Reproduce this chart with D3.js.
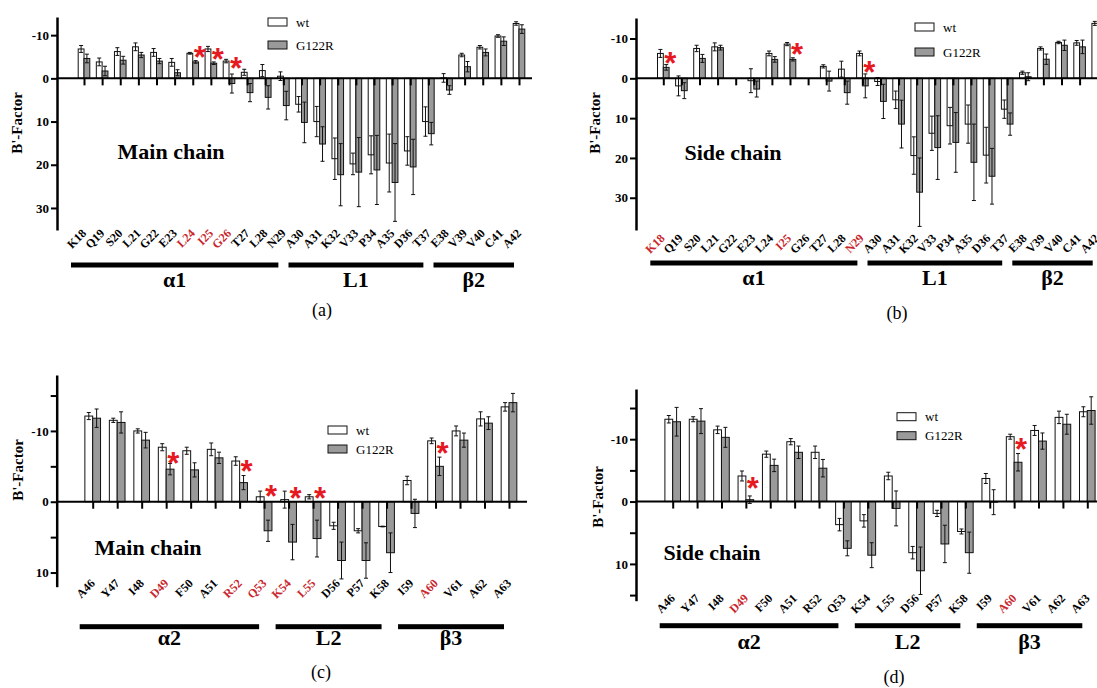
<!DOCTYPE html>
<html lang="en">
<head>
<meta charset="UTF-8">
<title>B'-Factor wt vs G122R</title>
<script src="https://d3js.org/d3.v7.min.js"></script>
<style>
  body { margin: 0; background: #fff; }
  svg { display: block; }
</style>
</head>
<body>
<script>
// ---------- data (negative = drawn upward) ----------
var catsA = ['K18','Q19','S20','L21','G22','E23','L24','I25','G26','T27','L28','N29',
             'A30','A31','K32','V33','P34','A35','D36','T37','E38','V39','V40','C41','A42'];
var catsC = ['A46','Y47','I48','D49','F50','A51','R52','Q53','K54','L55','D56','P57','K58',
             'I59','A60','V61','A62','A63'];

// (a) main chain, residues 18-42
var mainWtA     = [-6.8,-3.8,-6.2,-7.3,-6.0,-3.7,-5.8,-6.8,-4.0,-1.4,-1.8,-0.5,6.0,10.0,18.6,19.8,17.7,19.6,16.8,10.0,-0.1,-5.4,-7.2,-9.8,-12.7];
var mainWtErrA  = [0.8,0.9,0.9,0.9,0.9,0.9,0.2,0.6,0.4,0.7,1.4,1.0,1.8,3.5,4.8,2.5,4.4,6.7,3.3,3.4,1.0,0.4,0.4,0.3,0.4];
var mainMutA    = [-4.6,-1.7,-4.2,-5.4,-4.0,-1.3,-3.8,-3.5,1.2,3.3,4.4,6.3,10.2,15.2,22.3,21.7,21.2,24.1,20.5,12.8,2.7,-2.7,-6.0,-8.6,-11.4];
var mainMutErrA = [1.0,1.1,0.9,0.6,0.6,0.7,0.3,0.3,2.2,2.1,2.7,3.3,4.7,4.0,7.2,8.0,8.0,9.0,6.4,2.6,1.0,1.2,0.8,1.0,1.0];

// (b) side chain, residues 18-42
var sideWtB     = [-6.25,1.9,-7.5,-7.9,0,0.6,-6.25,-8.6,0,-3.0,-2.3,-6.25,0.8,5.4,19.4,13.8,11.9,11.5,19.3,7.75,-1.4,-7.5,-9.0,-8.9,-13.8];
var sideWtErrB  = [1.0,2.5,0.8,1.0,0,3.0,0.6,0.4,0,0.4,2.0,0.6,1.0,2.2,4.7,4.3,4.6,4.8,7.0,2.3,0.4,0.4,0.3,0.6,0.5];
var sideMutB    = [-2.75,3.1,-5.0,-7.7,0,2.7,-4.75,-4.75,0,0.7,3.6,1.9,5.8,11.5,28.6,17.4,16.1,21.1,24.6,11.5,-0.4,-4.8,-8.3,-7.9,-12.5];
var sideMutErrB = [0.7,2.0,1.0,0.6,0,2.0,0.7,0.4,0,2.5,2.9,3.0,4.3,6.0,8.6,8.0,7.5,9.6,7.0,2.8,1.0,1.3,1.3,1.7,1.0];

// (c) main chain, residues 46-63
var mainWtC     = [-12.1,-11.5,-10.0,-7.7,-7.2,-7.4,-5.75,-0.7,-0.3,-0.7,3.4,4.1,3.5,-3.0,-8.6,-10.0,-11.7,-13.4];
var mainWtErrC  = [0.5,0.3,0.3,0.5,0.5,0.9,0.6,0.8,1.2,0.3,0.5,0.3,0.05,0.6,0.4,0.7,1.0,0.6];
var mainMutC    = [-11.8,-11.2,-8.7,-4.6,-4.5,-6.2,-2.7,4.1,5.7,5.2,8.3,8.3,7.2,1.65,-5.0,-8.7,-11.1,-14.0];
var mainMutErrC = [1.3,1.5,1.1,0.8,1.0,0.8,1.0,1.5,2.5,2.6,2.6,2.5,2.8,2.0,1.3,1.0,0.9,1.3];

// (d) side chain, residues 46-63
var sideWtD     = [-13.2,-13.2,-11.5,-4.1,-7.6,-9.6,-7.9,3.7,3.1,-4.1,8.2,1.9,4.8,-3.7,-10.4,-11.4,-13.5,-14.4];
var sideWtErrD  = [0.6,0.4,0.6,0.8,0.5,0.5,1.0,1.0,1.0,0.6,1.0,0.5,0.4,0.8,0.4,0.8,1.0,0.8];
var sideMutD    = [-12.8,-12.9,-10.3,-0.3,-5.8,-7.9,-5.35,7.5,8.6,1.1,11.1,6.8,8.2,0.1,-6.3,-9.7,-12.4,-14.6];
var sideMutErrD = [2.3,2.0,1.6,0.6,1.0,1.0,1.4,1.2,2.0,2.8,3.8,3.0,3.3,2.0,1.4,1.3,1.6,2.2];

// highlighted residues and significance marks [residue, level]
var redA = ['L24','I25','G26'];
var redB = ['K18','I25','N29'];
var redC = ['D49','R52','Q53','K54','L55','A60'];
var redD = ['D49','A60'];
var starsA = [['L24',-6.4],['I25',-5.9],['G26',-3.7]];
var starsB = [['K18',-5.4],['I25',-7.7],['N29',-3.2]];
var starsC = [['D49',-6.3],['R52',-5.2],['Q53',-1.65],['K54',-1.4],['L55',-1.4],['A60',-7.7]];
var starsD = [['D49',-3.2],['A60',-9.4]];

// secondary structure segments [name, first, last]
var segsA = [['\u03b11','K18','N29'],['L1','A30','T37'],['\u03b22','E38','A42']];
var segsC = [['\u03b12','A46','Q53'],['L2','K54','K58'],['\u03b23','I59','A63']];

var seriesNames = ['wt','G122R'];
var fills = {wt: '#ffffff', G122R: '#9a9a9a'};

var SERIF = "'Liberation Serif','Times New Roman',serif";
var RED = '#c8262c';

var svg = d3.select('body').append('svg')
    .attr('width', 1097)
    .attr('height', 688)
    .style('background', '#fff');

function drawPanel(p) {
    var g = svg.append('g');

    var y = d3.scaleLinear().domain(p.yDom).range([p.top, p.bottom]);
    var x = d3.scalePoint().domain(p.cats).range([p.xFirst, p.xLast]);
    var bw = x.step() * 0.32;
    var sub = d3.scaleBand().domain(seriesNames).range([-bw, bw]);

    var rows = p.cats.map(function(c, i) {
        return {cat: c, vals: [
            {k: 'wt', v: p.wt[i], e: p.wtErr[i]},
            {k: 'G122R', v: p.mut[i], e: p.mutErr[i]}
        ]};
    });

    // bars
    var grp = g.selectAll('g.grp').data(rows).enter().append('g')
        .attr('class', 'grp')
        .attr('transform', function(d){ return 'translate(' + x(d.cat) + ',0)'; });

    grp.selectAll('rect')
        .data(function(d){ return d.vals.filter(function(v){ return v.v !== 0; }); })
        .enter().append('rect')
        .attr('x', function(d){ return sub(d.k); })
        .attr('width', sub.bandwidth())
        .attr('y', function(d){ return Math.min(y(0), y(d.v)); })
        .attr('height', function(d){ return Math.abs(y(d.v) - y(0)); })
        .attr('fill', function(d){ return fills[d.k]; })
        .attr('stroke', '#111')
        .attr('stroke-width', 1);

    // error bars
    var eb = grp.selectAll('g.err')
        .data(function(d){ return d.vals.filter(function(v){ return v.e > 0; }); })
        .enter().append('g').attr('class', 'err')
        .attr('stroke', '#111').attr('stroke-width', 1);
    eb.append('line')
        .attr('x1', function(d){ return sub(d.k) + sub.bandwidth()/2; })
        .attr('x2', function(d){ return sub(d.k) + sub.bandwidth()/2; })
        .attr('y1', function(d){ return y(d.v - d.e); })
        .attr('y2', function(d){ return y(d.v + d.e); });
    [-1, 1].forEach(function(s) {
        eb.append('line')
            .attr('x1', function(d){ return sub(d.k) + sub.bandwidth()/2 - 2; })
            .attr('x2', function(d){ return sub(d.k) + sub.bandwidth()/2 + 2; })
            .attr('y1', function(d){ return y(d.v + s*d.e); })
            .attr('y2', function(d){ return y(d.v + s*d.e); });
    });

    // zero line + category ticks
    g.append('line')
        .attr('x1', p.axisX).attr('x2', p.lineEnd)
        .attr('y1', y(0)).attr('y2', y(0))
        .attr('stroke', '#000').attr('stroke-width', 2);
    g.append('g')
        .attr('transform', 'translate(0,' + y(0) + ')')
        .call(d3.axisBottom(x).tickSize(7).tickFormat(''))
        .call(function(a){ a.select('.domain').remove(); })
        .selectAll('line').attr('stroke', '#000').attr('stroke-width', 2);

    // y axis
    var ya = g.append('g')
        .attr('transform', 'translate(' + p.axisX + ',0)')
        .call(d3.axisLeft(y).tickValues(p.ticks).tickSize(6).tickSizeOuter(0).tickPadding(2)
            .tickFormat(function(d){ return p.labelled.indexOf(d) >= 0 ? String(d) : ''; }));
    ya.select('.domain').attr('stroke', '#000').attr('stroke-width', 2.5);
    ya.selectAll('line').attr('stroke', '#000').attr('stroke-width', 2);
    ya.selectAll('text')
        .attr('fill', '#000')
        .style('font-family', SERIF).style('font-weight', 'bold').style('font-size', '13px');

    g.append('text')
        .attr('transform', 'translate(' + p.ylabX + ',' + p.ylabY + ') rotate(-90)')
        .attr('text-anchor', 'middle')
        .style('font-family', SERIF).style('font-weight', 'bold').style('font-size', '15px')
        .text("B'-Factor");

    // residue labels
    g.selectAll('text.res').data(p.cats).enter().append('text')
        .attr('class', 'res')
        .attr('transform', function(d){ return 'translate(' + (x(d) + p.labDx) + ',' + p.labelY + ') rotate(-45)'; })
        .attr('text-anchor', 'end')
        .attr('dy', '0.72em')
        .attr('fill', function(d){ return p.red.indexOf(d) >= 0 ? RED : '#000'; })
        .style('font-family', SERIF).style('font-weight', 'bold').style('font-size', '12px')
        .text(function(d){ return d; });

    // significance stars
    g.selectAll('text.star').data(p.stars).enter().append('text')
        .attr('class', 'star')
        .attr('x', function(d){ return x(d[0]) + 7; })
        .attr('y', function(d){ return y(d[1]) + 17; })
        .attr('text-anchor', 'middle')
        .attr('fill', '#e5191f')
        .style('font-family', "'Liberation Sans',Arial,sans-serif").style('font-weight', 'bold')
        .style('font-size', '31px')
        .text('*');

    // secondary structure bars
    p.segs.forEach(function(s) {
        var x0 = x(s[1]) - 13, x1 = x(s[2]) - 5;
        g.append('rect')
            .attr('x', x0).attr('width', x1 - x0)
            .attr('y', p.barY - 2.5).attr('height', 5)
            .attr('fill', '#000');
        g.append('text')
            .attr('x', (x0 + x1) / 2).attr('y', p.segTextY)
            .attr('text-anchor', 'middle')
            .style('font-family', SERIF).style('font-weight', 'bold').style('font-size', '22px')
            .text(s[0]);
    });

    // chain title
    g.append('text')
        .attr('x', p.titleX).attr('y', p.titleY)
        .attr('text-anchor', 'middle')
        .style('font-family', SERIF).style('font-weight', 'bold').style('font-size', '22px')
        .text(p.title);

    // panel label
    g.append('text')
        .attr('x', p.plX).attr('y', p.plY)
        .attr('text-anchor', 'middle')
        .style('font-family', SERIF).style('font-size', '18px')
        .text(p.panel);

    // legend
    var lg = g.append('g').attr('transform', 'translate(' + p.legX + ',' + p.legY + ')');
    seriesNames.forEach(function(k, i) {
        lg.append('rect')
            .attr('x', 0).attr('y', i * p.legGap)
            .attr('width', 19).attr('height', 8)
            .attr('fill', fills[k]).attr('stroke', '#111').attr('stroke-width', 1);
        lg.append('text')
            .attr('x', 28).attr('y', i * p.legGap + 4)
            .attr('dy', '0.35em')
            .style('font-family', SERIF).style('font-size', '13px')
            .text(k);
    });
}

drawPanel({
    cats: catsA, wt: mainWtA, wtErr: mainWtErrA, mut: mainMutA, mutErr: mainMutErrA,
    red: redA, stars: starsA, segs: segsA,
    axisX: 57, top: 17, bottom: 230, yDom: [-14.2, 35.1],
    ticks: [-10, 0, 10, 20, 30], labelled: [-10, 0, 10, 20, 30],
    xFirst: 84, xLast: 519, lineEnd: 532,
    labelY: 228, labDx: -3, barY: 265, segTextY: 287,
    title: 'Main chain', titleX: 171, titleY: 159,
    panel: '(a)', plX: 322, plY: 316,
    legX: 268, legY: 18, legGap: 23,
    ylabX: 22, ylabY: 123
});

drawPanel({
    cats: catsA, wt: sideWtB, wtErr: sideWtErrB, mut: sideMutB, mutErr: sideMutErrB,
    red: redB, stars: starsB, segs: segsA,
    axisX: 636, top: 18, bottom: 230, yDom: [-15.15, 38.1],
    ticks: [-10, 0, 10, 20, 30], labelled: [-10, 0, 10, 20, 30],
    xFirst: 663.3, xLast: 1097.7, lineEnd: 1097,
    labelY: 233, labDx: -4, barY: 263, segTextY: 285,
    title: 'Side chain', titleX: 733, titleY: 160,
    panel: '(b)', plX: 897, plY: 319,
    legX: 915, legY: 23, legGap: 25,
    ylabX: 600, ylabY: 123
});

drawPanel({
    cats: catsC, wt: mainWtC, wtErr: mainWtErrC, mut: mainMutC, mutErr: mainMutErrC,
    red: redC, stars: starsC, segs: segsC,
    axisX: 56.7, top: 375, bottom: 586.7, yDom: [-17.9, 12.0],
    ticks: [-15, -10, -5, 0, 5, 10], labelled: [-10, 0, 10],
    xFirst: 92.7, xLast: 509, lineEnd: 527,
    labelY: 578, labDx: -3, barY: 626.7, segTextY: 645,
    title: 'Main chain', titleX: 148, titleY: 555,
    panel: '(c)', plX: 321, plY: 678,
    legX: 328, legY: 426, legGap: 19,
    ylabX: 23, ylabY: 470
});

drawPanel({
    cats: catsC, wt: sideWtD, wtErr: sideWtErrD, mut: sideMutD, mutErr: sideMutErrD,
    red: redD, stars: starsD, segs: segsC,
    axisX: 636, top: 389, bottom: 600.7, yDom: [-18.05, 15.9],
    ticks: [-15, -10, -5, 0, 5, 10, 15], labelled: [-10, 0, 10],
    xFirst: 672.7, xLast: 1087.3, lineEnd: 1097,
    labelY: 593, labDx: -3, barY: 625.7, segTextY: 649,
    title: 'Side chain', titleX: 712, titleY: 560,
    panel: '(d)', plX: 894, plY: 683,
    legX: 897, legY: 412.7, legGap: 19,
    ylabX: 603, ylabY: 497
});
</script>
</body>
</html>
